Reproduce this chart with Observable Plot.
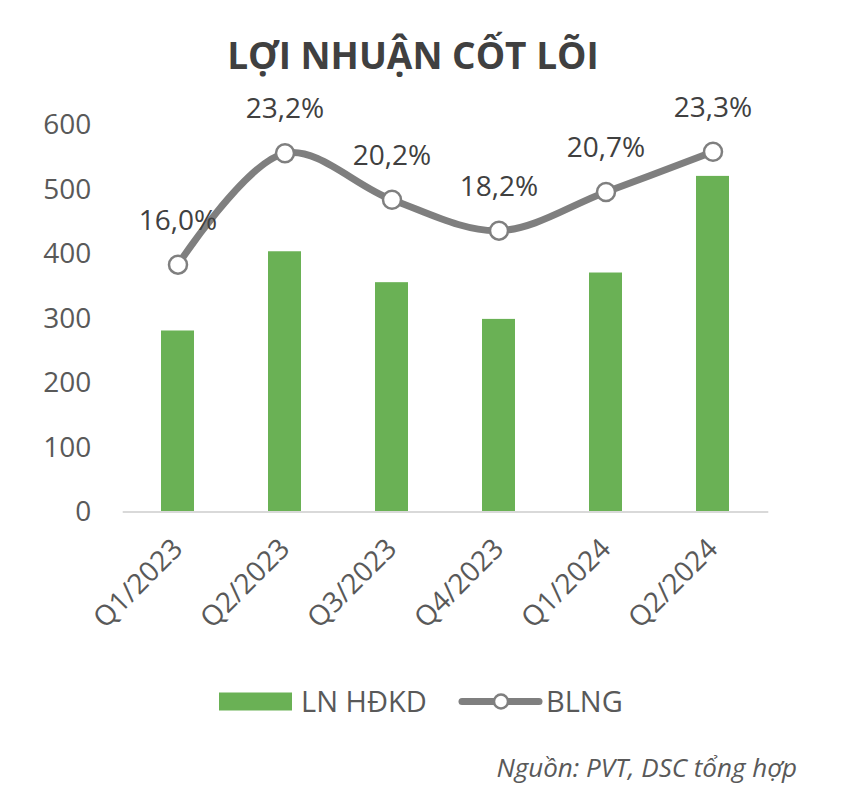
<!DOCTYPE html>
<html>
<head>
<meta charset="utf-8">
<script src="https://cdn.jsdelivr.net/npm/d3@7"></script>
<script src="https://cdn.jsdelivr.net/npm/@observablehq/plot@0.6"></script>
<style>
  html, body { margin: 0; padding: 0; background: #fff; }
  body { width: 858px; height: 790px; position: relative; font-family: "Open Sans", sans-serif; overflow: hidden; }
  #title { position: absolute; left: 0; top: 29px; width: 826px; text-align: center; font-size: 37px; font-weight: 700; color: #404040; }
  #chart { position: absolute; left: 0; top: 60px; }
  #legend { position: absolute; left: 0; top: 682px; width: 858px; height: 40px; }
  #source { position: absolute; right: 61px; top: 749px; font-size: 26px; font-style: italic; color: #595959; }
</style>
</head>
<body>
<div id="title">LỢI NHUẬN CỐT LÕI</div>
<div id="chart"></div>
<svg id="legend" width="858" height="40"></svg>
<div id="source">Nguồn: PVT, DSC tổng hợp</div>
<script>
const quarters = ["Q1/2023", "Q2/2023", "Q3/2023", "Q4/2023", "Q1/2024", "Q2/2024"];
const lnHdkd = [281, 404, 356, 299, 371, 521];
const blng = [16.0, 23.2, 20.2, 18.2, 20.7, 23.3];
const blngLabels = ["16,0%", "23,2%", "20,2%", "18,2%", "20,7%", "23,3%"];
const yTicks = [0, 100, 200, 300, 400, 500, 600];
// secondary (hidden) axis: 0–25% spans the same height as 0–600
const secondaryMax = 25;
const primaryMax = 600;

const data = quarters.map((q, i) => ({q, ln: lnHdkd[i], blng: blng[i], label: blngLabels[i]}));
const toPrimary = d => d.blng * primaryMax / secondaryMax;

const GREEN = "#6AB155", GRAY = "#7F7F7F", TXT = "#595959";

const chart = Plot.plot({
  width: 858,
  height: 610,
  marginTop: 65,
  marginBottom: 158.5,
  marginLeft: 122.7,
  marginRight: 89.7,
  style: {fontFamily: "Open Sans", fontSize: "28px", color: TXT, background: "transparent", overflow: "visible"},
  x: {domain: quarters, paddingInner: 0.69, paddingOuter: 0.345, label: null, tickSize: 0, tickRotate: -45, tickPadding: 32},
  y: {domain: [0, primaryMax], ticks: yTicks, label: null, tickSize: 0, tickPadding: 32},
  marks: [
    Plot.barY(data, {x: "q", y: "ln", fill: GREEN}),
    Plot.ruleY([0], {stroke: "#D9D9D9", strokeWidth: 2}),
    Plot.line(data, {x: "q", y: toPrimary, stroke: GRAY, strokeWidth: 7, curve: "catmull-rom"}),
    Plot.dot(data, {x: "q", y: toPrimary, r: 9, fill: "white", stroke: GRAY, strokeWidth: 2.5}),
    Plot.text(data, {x: "q", y: toPrimary, text: "label", dy: -44, fontSize: 28, fill: "#404040"})
  ]
});
document.getElementById("chart").appendChild(chart);

// legend
const lg = d3.select("#legend");
lg.append("rect").attr("x", 219).attr("y", 10.5).attr("width", 73).attr("height", 18).attr("fill", GREEN);
lg.append("text").attr("x", 301).attr("y", 29.5).attr("font-size", 29).attr("fill", TXT).attr("font-family", "Open Sans").text("LN HĐKD");
lg.append("line").attr("x1", 462).attr("x2", 539).attr("y1", 19.5).attr("y2", 19.5).attr("stroke", GRAY).attr("stroke-width", 7).attr("stroke-linecap", "round");
lg.append("circle").attr("cx", 501).attr("cy", 19.5).attr("r", 7).attr("fill", "white").attr("stroke", GRAY).attr("stroke-width", 2.5);
lg.append("text").attr("x", 546).attr("y", 29.5).attr("font-size", 29).attr("fill", TXT).attr("font-family", "Open Sans").text("BLNG");
</script>
</body>
</html>
